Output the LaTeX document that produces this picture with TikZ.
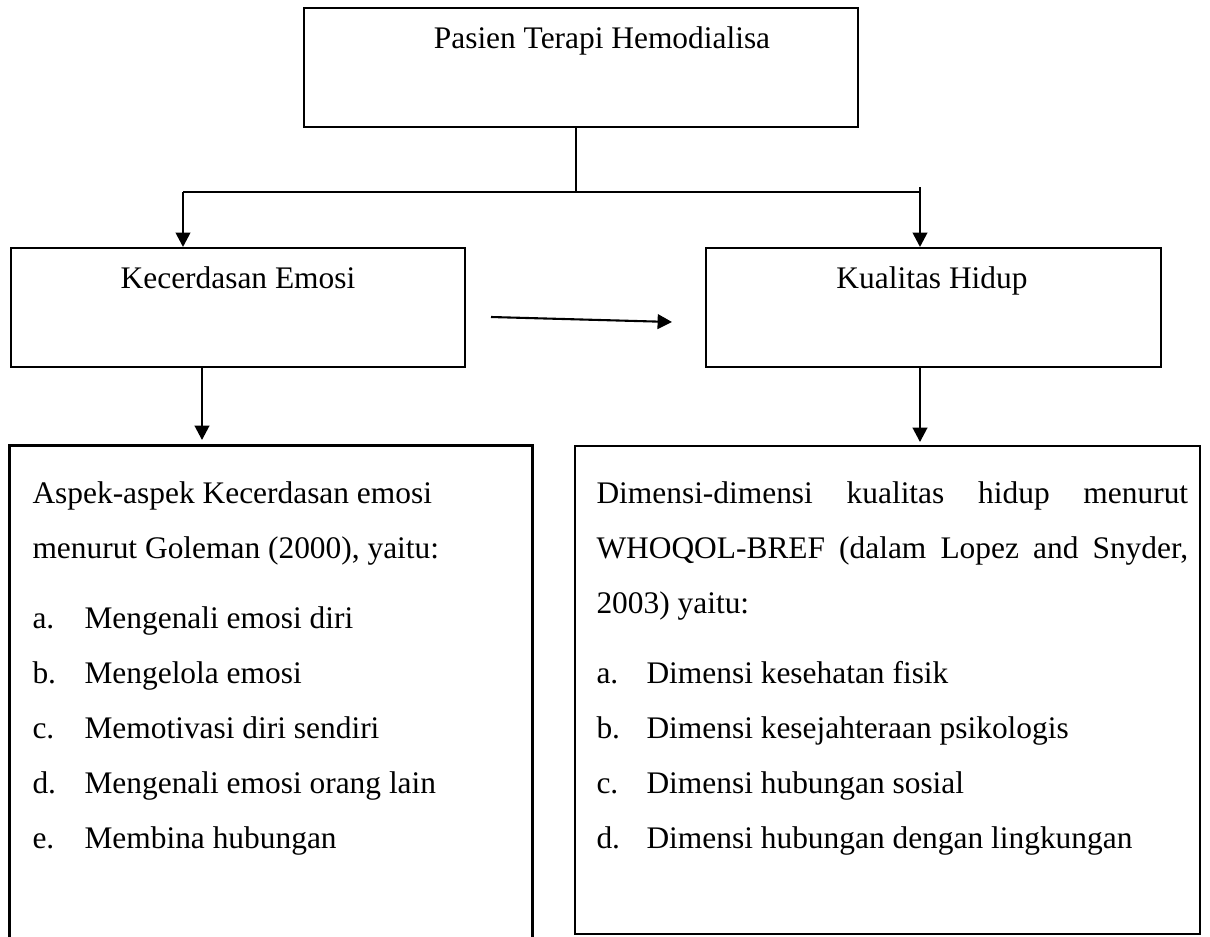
\documentclass[tikz,border=0pt]{standalone}
\usepackage{fontspec}
\setmainfont{Liberation Serif}
\usetikzlibrary{arrows.meta}

\begin{document}
\begin{tikzpicture}[x=0.382pt,y=-0.382pt,
    kotak/.style={draw,line width=0.8pt,inner sep=0pt},
    garis/.style={line width=0.8pt},
    panah/.style={line width=0.8pt,-{Triangle[length=5.5pt,width=5.6pt]}},
    judul/.style={anchor=base,inner sep=0pt,font=\fontsize{12}{14}\selectfont},
    teks/.style={anchor=base west,inner sep=0pt,font=\fontsize{12}{14}\selectfont}]
\useasboundingbox (0,0) rectangle (1210,937);

% kotak
\node[kotak,minimum width=554*0.382pt,minimum height=119*0.382pt] (pasien) at (581,67.5) {};
\node[kotak,minimum width=454*0.382pt,minimum height=119*0.382pt] (emosi) at (238,307.5) {};
\node[kotak,minimum width=455*0.382pt,minimum height=119*0.382pt] (hidup) at (933.5,307.5) {};
\node[kotak,minimum width=625*0.382pt,minimum height=488*0.382pt] (dimensi) at (887.5,690) {};
\node[inner sep=0pt,minimum width=522*0.382pt,minimum height=492*0.382pt] (aspek) at (271,692) {};
\draw[garis] (aspek.south west) -- (aspek.north west) -- (aspek.north east) -- (aspek.south east);

% judul kotak
\node[judul] (tpasien) at (602,49) {Pasien Terapi Hemodialisa};
\node[judul] (temosi) at (238,288) {Kecerdasan Emosi};
\node[judul] (thidup) at (932,288) {Kualitas Hidup};

% percabangan
\coordinate (cabang) at (576,192);
\coordinate (kiri) at (183,192);
\coordinate (kanan) at (920,192);
\draw[garis] (cabang |- pasien.south) -- (cabang);
\draw[garis] (kiri) -- (kanan);
\draw[panah] (kiri) -- (kiri |- emosi.north);
\draw[panah] ([yshift=1.8pt]kanan) -- (kanan |- hidup.north);

% panah tengah
\coordinate (t1) at (491,317);
\coordinate (t2) at (672,322);
\draw[panah] (t1) -- (t2);

% panah ke bawah
\coordinate (bkiri) at (202,440);
\coordinate (bkanan) at (920,442);
\draw[panah] (bkiri |- emosi.south) -- (bkiri);
\draw[panah] (bkanan |- hidup.south) -- (bkanan);

% isi kotak kiri
\node[teks] (ak1) at (32,503) {Aspek-aspek Kecerdasan emosi};
\node[teks] (ak2) at (32,558) {menurut Goleman (2000), yaitu:};
\foreach \h/\t [count=\i] in {a./Mengenali emosi diri,b./Mengelola emosi,c./Memotivasi diri sendiri,d./Mengenali emosi orang lain,e./Membina hubungan}{
  \node[teks] (ah\i) at (32,{628+55*(\i-1)}) {\h};
  \node[teks] (at\i) at (84,{628+55*(\i-1)}) {\t};
}

% isi kotak kanan
\node[teks] (dk1) at (596,503) {\makebox[226pt][s]{Dimensi-dimensi kualitas hidup menurut}};
\node[teks] (dk2) at (596,558) {\makebox[226pt][s]{WHOQOL-BREF (dalam Lopez and Snyder,}};
\node[teks] (dk3) at (596,613) {2003) yaitu:};
\foreach \h/\t [count=\i] in {a./Dimensi kesehatan fisik,b./Dimensi kesejahteraan psikologis,c./Dimensi hubungan sosial,d./Dimensi hubungan dengan lingkungan}{
  \node[teks] (dh\i) at (596,{683+55*(\i-1)}) {\h};
  \node[teks] (dt\i) at (646,{683+55*(\i-1)}) {\t};
}
\end{tikzpicture}
\end{document}
